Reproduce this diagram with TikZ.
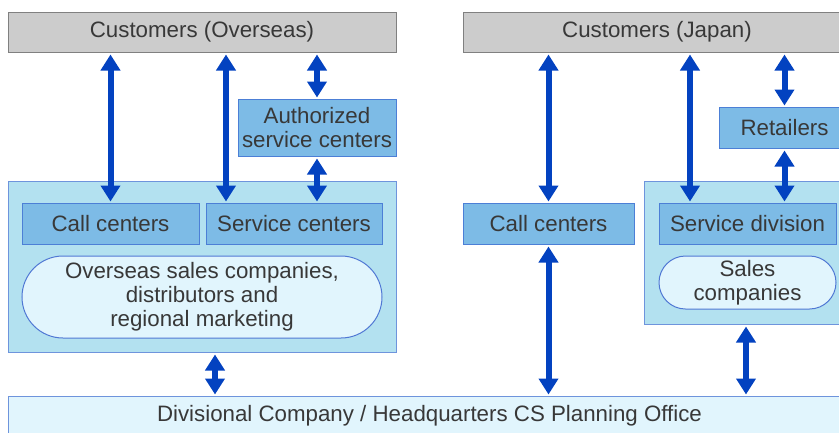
\documentclass[tikz,border=0pt]{standalone}
\usepackage{fontspec}
\setmainfont{Liberation Sans}
\usetikzlibrary{arrows.meta}
\definecolor{grayfill}{HTML}{CCCCCC}
\definecolor{grayline}{HTML}{808080}
\definecolor{midfill}{HTML}{7DBBE6}
\definecolor{midline}{HTML}{4C7FD6}
\definecolor{contfill}{HTML}{B3E1F0}
\definecolor{contline}{HTML}{6E94DC}
\definecolor{palefill}{HTML}{E1F5FD}
\definecolor{paleline}{HTML}{5078D4}
\definecolor{arrblue}{HTML}{0342C0}
\definecolor{txt}{HTML}{383838}
\tikzset{
  base/.style={inner sep=0pt, align=center, text=txt, line width=1pt,
    font=\fontsize{22.3}{24}\selectfont},
  custbox/.style={base, draw=grayline, fill=grayfill},
  midbox/.style={base, draw=midline, fill=midfill},
  contbox/.style={base, draw=contline, fill=contfill},
  pill/.style={base, draw=paleline, fill=palefill},
  hqbox/.style={base, draw=contline, fill=palefill},
  arr/.style={draw=arrblue, line width=6pt,
    {Triangle[width=19pt,length=16pt]}-{Triangle[width=19pt,length=16pt]},
    shorten <=2pt, shorten >=1pt},
}
\begin{document}
\begin{tikzpicture}[x=1pt,y=-1pt]
\useasboundingbox (0,0) rectangle (839,432);
\clip (0,0) rectangle (839,432);
% containers
\node[contbox, minimum width=388pt, minimum height=171pt] (ovbox) at (202,266.5) {};
\node[contbox, minimum width=207pt, minimum height=143pt] (jbox) at (747.5,252.5) {};
% customers
\node[custbox, minimum width=388pt, minimum height=40pt] (custO) at (202,32) {Customers (Overseas)};
\node[custbox, minimum width=388pt, minimum height=40pt] (custJ) at (657,32) {Customers (Japan)};
% overseas
\node[midbox, minimum width=158pt, minimum height=57pt] (auth) at (317,127.5) {Authorized\\service centers};
\node[midbox, minimum width=177pt, minimum height=41pt] (cco) at (110.5,223.5) {Call centers};
\node[midbox, minimum width=176pt, minimum height=41pt] (sc) at (294,223.5) {Service centers};
\node[pill, minimum width=360pt, minimum height=82pt, rounded corners=41pt] (ovsales) at (202,297) {Overseas sales companies,\\distributors and\\regional marketing};
% japan
\node[midbox, minimum width=171pt, minimum height=41pt] (ccj) at (548.5,223.5) {Call centers};
\node[midbox, minimum width=131pt, minimum height=41pt] (ret) at (784.5,127.5) {Retailers};
\node[midbox, minimum width=177pt, minimum height=41pt] (sd) at (747.5,223.5) {Service division};
\node[pill, minimum width=177pt, minimum height=53pt, rounded corners=26.5pt] (salesj) at (747.5,282.5) {Sales\\companies};
% HQ
\node[hqbox, minimum width=843pt, minimum height=40pt] (hq) at (429.5,416) {Divisional Company / Headquarters CS Planning Office};
% overseas arrows
\draw[arr] (cco.north |- custO.south) -- (cco.north);
\draw[arr] ([xshift=-68pt]sc.north |- custO.south) -- ([xshift=-68pt]sc.north);
\draw[arr] (auth.north |- custO.south) -- (auth.north);
\draw[arr] (auth.south) -- (auth.south |- sc.north);
\draw[arr] ([xshift=13pt]ovbox.south) -- ([xshift=13pt]ovbox.south |- hq.north);
% japan arrows
\draw[arr] (ccj.north |- custJ.south) -- (ccj.north);
\draw[arr] ([xshift=-57.5pt]sd.north |- custJ.south) -- ([xshift=-57.5pt]sd.north);
\draw[arr] (ret.north |- custJ.south) -- (ret.north);
\draw[arr] (ret.south) -- (ret.south |- sd.north);
\draw[arr] (ccj.south) -- (ccj.south |- hq.north);
\draw[arr] ([xshift=-1.5pt]jbox.south) -- ([xshift=-1.5pt]jbox.south |- hq.north);
\end{tikzpicture}
\end{document}
